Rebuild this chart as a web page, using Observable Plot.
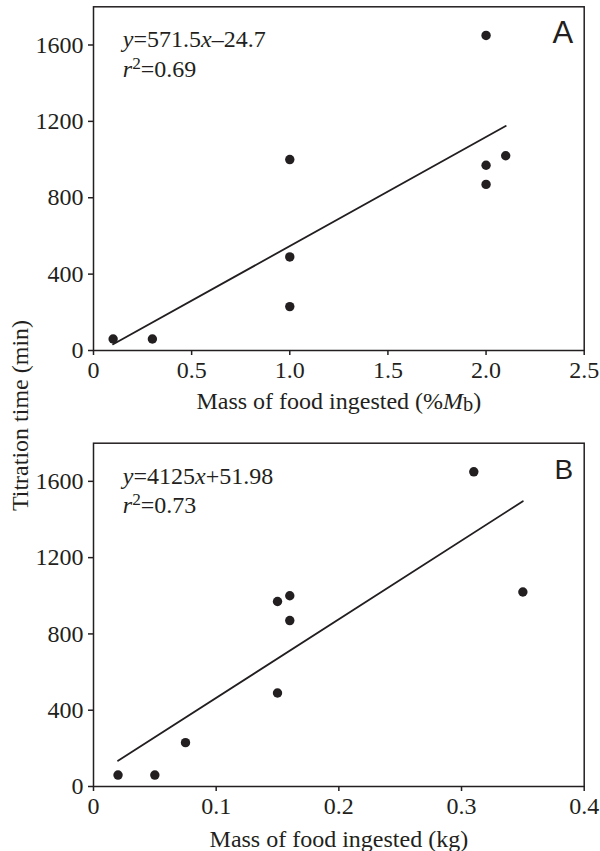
<!DOCTYPE html>
<html>
<head>
<meta charset="utf-8">
<script src="https://cdn.jsdelivr.net/npm/d3@7"></script>
<script src="https://cdn.jsdelivr.net/npm/@observablehq/plot@0.6"></script>
<style>
  body { margin: 0; background: #fff; }
  #wrap { position: relative; width: 600px; height: 851px; }
  #wrap > svg { display: block; }
  #ylab { position: absolute; left: 0; top: 0; pointer-events: none; }
</style>
</head>
<body>
<div id="wrap"></div>
<script>
// ---- data ----
const massPctA = [0.1, 0.3, 1.0, 1.0, 1.0, 2.0, 2.0, 2.0, 2.1];
const timeA    = [60, 60, 1000, 490, 230, 1650, 970, 870, 1020];
const massKgB  = [0.02, 0.05, 0.075, 0.15, 0.15, 0.16, 0.16, 0.31, 0.35];
const timeB    = [60, 60, 230, 490, 970, 1000, 870, 1650, 1020];
const fitAx = [0.1, 2.1];
const fitAy = [32.5, 1175.5];
const fitBx = [0.02, 0.35];
const fitBy = [134.5, 1495.7];
const yTicks  = [0, 400, 800, 1200, 1600];
const xTicksA = [0, 0.5, 1.0, 1.5, 2.0, 2.5];
const xTicksB = [0, 0.1, 0.2, 0.3, 0.4];
const eqA = ["y=571.5x–24.7", "r2=0.69"];
const eqB = ["y=4125x+51.98", "r2=0.73"];
const xLabelA = "Mass of food ingested (%Mb)";
const xLabelB = "Mass of food ingested (kg)";
const yLabel = "Titration time (min)";

const INK = "#231f20";
const SERIF = "'Liberation Serif', 'Times New Roman', serif";
const SANS = "'Liberation Sans', Arial, sans-serif";
const FS = 24;

function panel({xs, ys, fx, fy, xDomain, xTicks, xFmt, eq, letter, xLabel, height, mTop, mBottom, labelDy, letterFs}) {
  const rows = xs.map((x, i) => ({x, y: ys[i]}));
  const fit = fx.map((x, i) => ({x, y: fy[i]}));
  return Plot.plot({
    width: 600, height,
    marginTop: mTop, marginBottom: mBottom, marginLeft: 93, marginRight: 16.3,
    style: {fontFamily: SERIF, background: "white", color: INK},
    x: {domain: xDomain},
    y: {domain: [0, 1800]},
    marks: [
      Plot.frame({stroke: INK, strokeWidth: 1.5}),
      Plot.axisY({ticks: yTicks, tickSize: 5, tickPadding: 5, fontSize: FS, fontFamily: SERIF, label: null, stroke: INK, strokeWidth: 1.5, tickFormat: d => String(d)}),
      Plot.axisX({ticks: xTicks, tickSize: 5, tickPadding: 5, fontSize: FS, fontFamily: SERIF, label: null, stroke: INK, strokeWidth: 1.5, tickFormat: xFmt}),
      Plot.line(fit, {x: "x", y: "y", stroke: INK, strokeWidth: 1.8}),
      Plot.dot(rows, {x: "x", y: "y", r: 4.7, fill: INK, stroke: "none"}),
      Plot.text([eq[0]], {frameAnchor: "top-left", dx: 29.3, dy: 40.4, textAnchor: "start", lineAnchor: "bottom", fontSize: FS, fontFamily: SERIF, fill: INK}),
      Plot.text([eq[1]], {frameAnchor: "top-left", dx: 29.3, dy: 69.7, textAnchor: "start", lineAnchor: "bottom", fontSize: FS, fontFamily: SERIF, fill: INK}),
      Plot.text([letter], {frameAnchor: "top-right", dx: -11, dy: 36, textAnchor: "end", lineAnchor: "bottom", fontSize: letterFs, fontFamily: SANS, fill: INK}),
      Plot.text([xLabel], {frameAnchor: "bottom", dy: labelDy, lineAnchor: "bottom", fontSize: FS, fontFamily: SERIF, fill: INK})
    ]
  });
}

const fmtA = d => d === 0 ? "0" : d.toFixed(1);
const fmtB = d => d === 0 ? "0" : d.toFixed(1);

const plotA = panel({xs: massPctA, ys: timeA, fx: fitAx, fy: fitAy, xDomain: [0, 2.5], xTicks: xTicksA, xFmt: fmtA,
  eq: eqA, letter: "A", xLabel: xLabelA, height: 415, mTop: 6.3, mBottom: 65, labelDy: 58, letterFs: 31});
const plotB = panel({xs: massKgB, ys: timeB, fx: fitBx, fy: fitBy, xDomain: [0, 0.4], xTicks: xTicksB, xFmt: fmtB,
  eq: eqB, letter: "B", xLabel: xLabelB, height: 436, mTop: 27.7, mBottom: 65, labelDy: 60.7, letterFs: 28});

const wrap = document.getElementById("wrap");
wrap.appendChild(plotA);
wrap.appendChild(plotB);

// rich text (italics, super/subscripts) as real SVG tspans
const rich = {
  [eqA[0]]: [["y", "i"], ["=571.5"], ["x", "i"], ["–24.7"]],
  [eqA[1]]: [["r", "i"], ["2", "sup"], ["=0.69", "back"]],
  [eqB[0]]: [["y", "i"], ["=4125"], ["x", "i"], ["+51.98"]],
  [eqB[1]]: [["r", "i"], ["2", "sup"], ["=0.73", "back"]],
  [xLabelA]: [["Mass of food ingested (%"], ["M", "i"], ["b", "sub"], [")", "subback"]]
};
for (const svg of [plotA, plotB]) {
  svg.querySelectorAll("text").forEach(t => {
    const parts = rich[t.textContent];
    if (!parts) return;
    const sel = d3.select(t);
    sel.text(null);
    for (const [s, k] of parts) {
      const ts = sel.append("tspan").text(s);
      if (k === "i") ts.attr("font-style", "italic");
      if (k === "sup") ts.attr("font-size", FS * 0.72).attr("dy", -8);
      if (k === "back") ts.attr("dy", 8);
      if (k === "sub") ts.attr("font-size", FS * 0.85).attr("dy", 2.5);
      if (k === "subback") ts.attr("dy", -2.5);
    }
  });
}

// shared y-axis title spanning both panels
const ov = d3.create("svg").attr("id", "ylab").attr("width", 600).attr("height", 851);
ov.append("text")
  .attr("transform", "translate(28,415.5) rotate(-90)")
  .attr("text-anchor", "middle")
  .attr("font-family", SERIF)
  .attr("font-size", FS)
  .attr("fill", INK)
  .text(yLabel);
wrap.appendChild(ov.node());
</script>
</body>
</html>
